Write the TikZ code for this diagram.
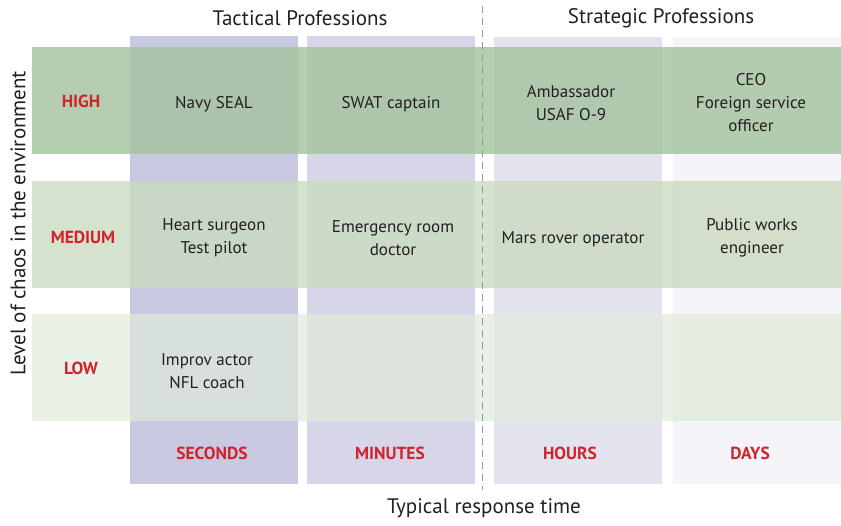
\documentclass[tikz,border=0pt]{standalone}
\usepackage{fontspec}
\setmainfont{PT Sans}
\definecolor{colA}{RGB}{200,201,224}
\definecolor{colB}{RGB}{214,214,232}
\definecolor{colC}{RGB}{227,227,240}
\definecolor{colD}{RGB}{244,244,249}
\definecolor{rowH}{RGB}{168,196,162}
\definecolor{rowM}{RGB}{202,219,192}
\definecolor{rowL}{RGB}{224,235,219}
\definecolor{lblred}{RGB}{210,35,45}
\definecolor{txt}{RGB}{35,31,32}
\definecolor{dashgray}{RGB}{150,150,150}
\begin{document}
\begin{tikzpicture}[x=1pt,y=-1pt,
  cell/.style={align=center,text=txt,font=\fontsize{17}{23}\selectfont,inner sep=0pt},
  lvl/.style={text=lblred,font=\fontsize{17.5}{20}\selectfont\bfseries,inner sep=0pt},
  head/.style={text=txt,font=\fontsize{21}{24}\selectfont,inner sep=0pt},
  bar/.style={draw=none,inner sep=0pt,outer sep=0pt}]
\useasboundingbox (0,0) rectangle (841,525);
% columns
\fill[colA] (130,36) rectangle (298,484);
\fill[colB] (307,36) rectangle (475,484);
\fill[colC] (494,37) rectangle (662,484);
\fill[colD] (673,37) rectangle (841,484);
% rows
\fill[rowH,opacity=0.85] (32,47) rectangle (841,154);
\fill[rowM,opacity=0.8] (32,181) rectangle (841,288);
\fill[rowL,opacity=0.7] (32,314) rectangle (841,421);
% dashed divider
\coordinate (dtop) at (482,6);
\coordinate (dbot) at (482,490);
\draw[dashgray,line width=1pt,dash pattern=on 7pt off 5pt] (dtop) -- (dbot);
% headers
\node[head] (tact) at (300,18) {Tactical Professions};
\node[head] (strat) at (661,18) {Strategic Professions};
\node[head] (xlab) at (484,508) {Typical response time};
\node[head,rotate=90] (ylab) at (18,223) {Level of chaos in the environment};
% level labels
\node[lvl] (high) at (81,101) {HIGH};
\node[lvl] (med) at (83,237) {MEDIUM};
\node[lvl] (low) at (81,368) {LOW};
% time labels
\node[lvl] (sec) at (212,453) {SECONDS};
\node[lvl] (min) at (390,453) {MINUTES};
\node[lvl] (hrs) at (570,453) {HOURS};
\node[lvl] (days) at (750,453) {DAYS};
% cells
\node[cell] (c11) at (214,104) {Navy SEAL};
\node[cell] (c12) at (391,104) {SWAT captain};
\node[cell] (c13) at (571,103) {Ambassador\\USAF O-9};
\node[cell] (c14) at (751,103) {CEO\\Foreign service\\officer};
\node[cell] (c21) at (214,238) {Heart surgeon\\Test pilot};
\node[cell] (c22) at (393,238) {Emergency room\\doctor};
\node[cell] (c23) at (573,239) {Mars rover operator};
\node[cell] (c24) at (752,238) {Public works\\engineer};
\node[cell] (c31) at (207,371) {Improv actor\\NFL coach};
\end{tikzpicture}
\end{document}
